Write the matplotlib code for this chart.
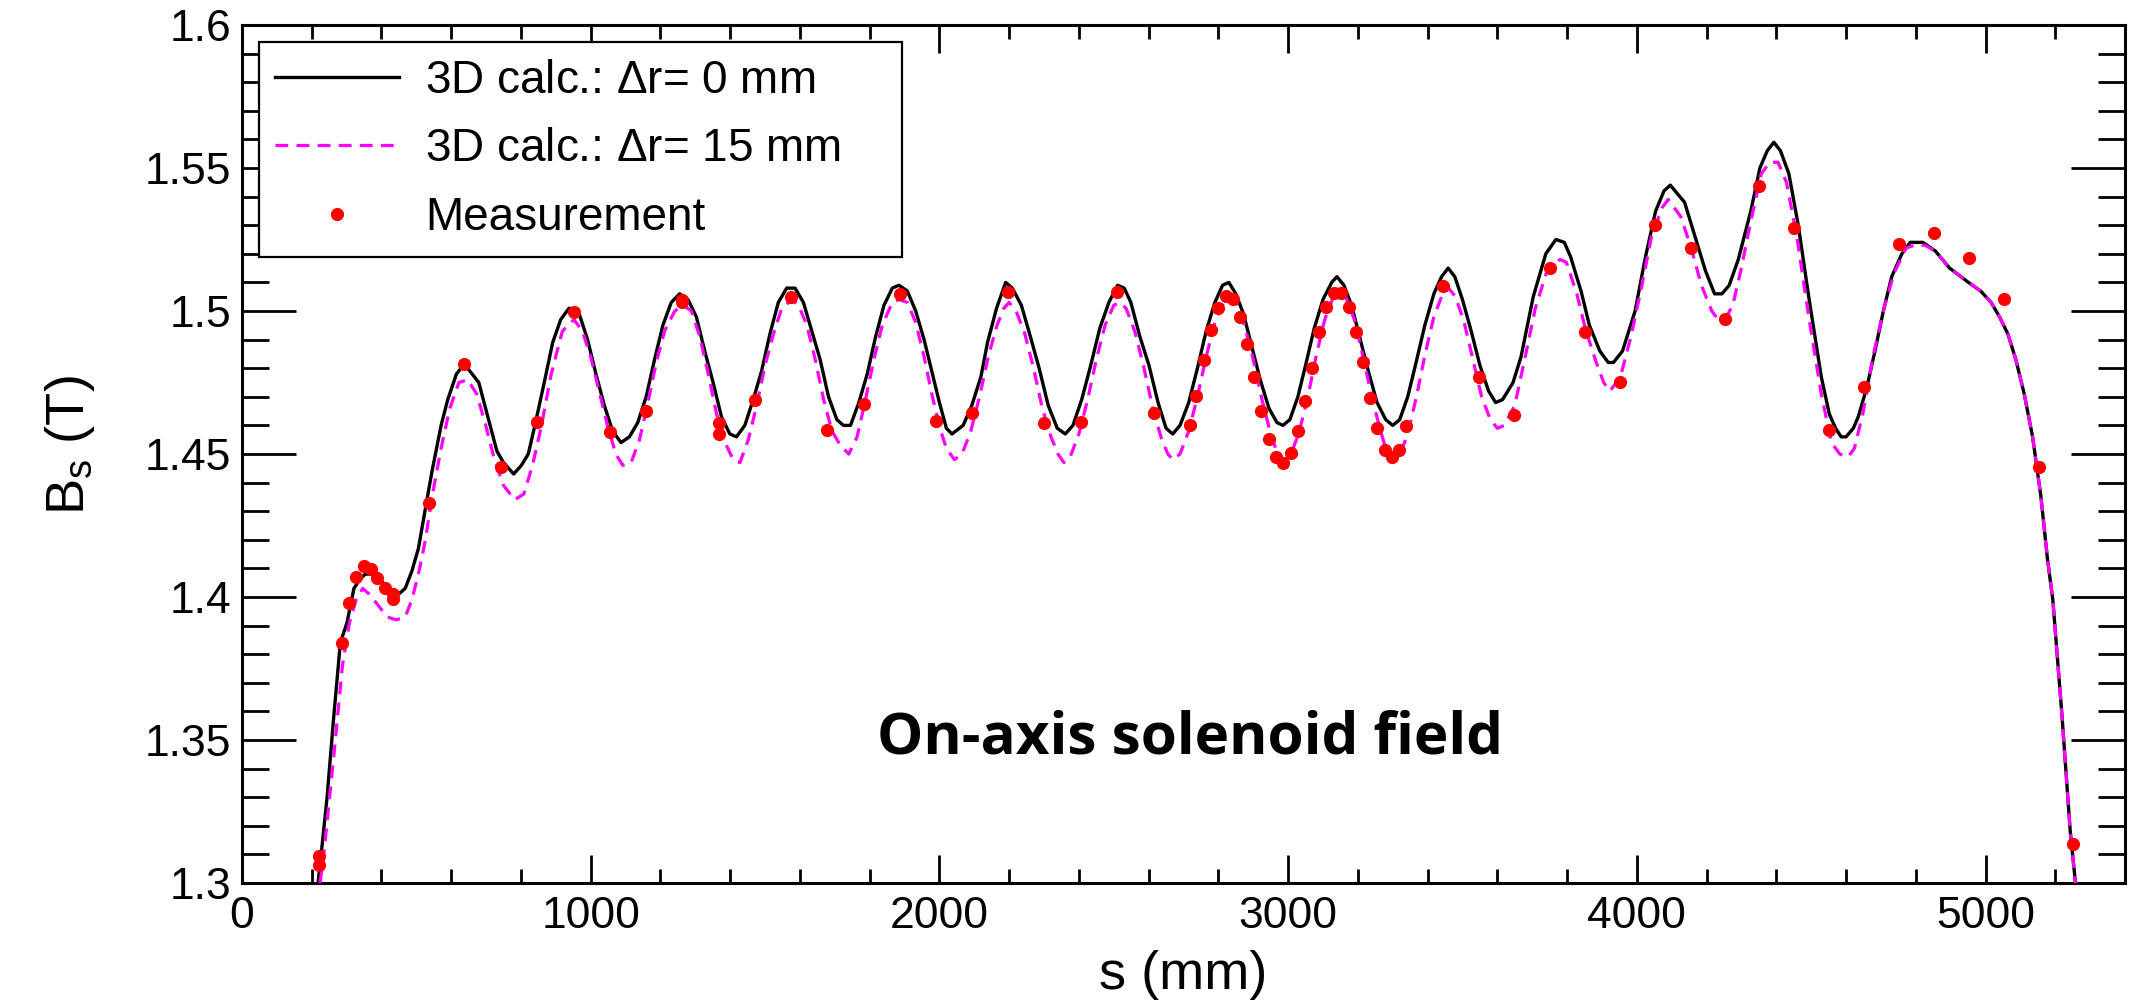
#!/usr/bin/env python3

import numpy as np
import matplotlib
matplotlib.use("Agg")
import matplotlib.pyplot as plt
from matplotlib.ticker import MultipleLocator, FormatStrFormatter

# 3D calculation, dr = 0 mm
calc0_s = [218, 227, 244, 263, 282, 301, 321, 337, 353, 378, 404, 429, 449, 468, 487, 506, 526, 545, 571, 590,
           615, 635, 647, 679, 705, 731, 750, 779, 801, 821, 840, 865, 891, 914, 938, 967, 991, 1015, 1039, 1063,
           1087, 1111, 1135, 1159, 1183, 1207, 1231, 1255, 1279, 1303, 1327, 1351, 1375, 1399, 1418, 1442, 1466,
           1490, 1514, 1538, 1562, 1586, 1610, 1634, 1658, 1682, 1706, 1725, 1745, 1769, 1793, 1817, 1841, 1865,
           1884, 1908, 1932, 1956, 1980, 2000, 2020, 2036, 2068, 2093, 2119, 2138, 2164, 2190, 2209, 2235, 2261,
           2286, 2312, 2338, 2361, 2383, 2408, 2434, 2460, 2486, 2511, 2530, 2549, 2575, 2601, 2627, 2650, 2669,
           2690, 2715, 2740, 2765, 2790, 2812, 2830, 2850, 2872, 2895, 2920, 2945, 2968, 2985, 3005, 3028, 3050,
           3075, 3100, 3125, 3140, 3160, 3182, 3205, 3230, 3255, 3280, 3300, 3320, 3343, 3367, 3392, 3418, 3440,
           3459, 3478, 3500, 3525, 3550, 3575, 3595, 3615, 3645, 3668, 3703, 3739, 3768, 3792, 3810, 3840, 3864,
           3894, 3918, 3933, 3959, 3995, 4025, 4054, 4078, 4096, 4137, 4167, 4197, 4223, 4244, 4265, 4291, 4327,
           4353, 4374, 4393, 4412, 4436, 4463, 4493, 4529, 4552, 4570, 4586, 4600, 4621, 4635, 4659, 4683, 4707,
           4731, 4760, 4784, 4820, 4856, 4897, 4951, 4986, 5016, 5040, 5064, 5087, 5111, 5135, 5159, 5177, 5193,
           5219, 5243, 5258]
calc0_b = [1.300, 1.310, 1.330, 1.358, 1.384, 1.391, 1.403, 1.406, 1.408, 1.408, 1.405, 1.401, 1.401, 1.403,
           1.409, 1.417, 1.431, 1.444, 1.460, 1.469, 1.478, 1.481, 1.480, 1.475, 1.463, 1.451, 1.447, 1.443,
           1.446, 1.450, 1.460, 1.474, 1.489, 1.497, 1.501, 1.499, 1.490, 1.478, 1.467, 1.458, 1.454, 1.456,
           1.461, 1.470, 1.483, 1.495, 1.503, 1.506, 1.504, 1.498, 1.486, 1.475, 1.463, 1.457, 1.456, 1.460,
           1.469, 1.479, 1.492, 1.503, 1.508, 1.508, 1.503, 1.493, 1.483, 1.470, 1.462, 1.460, 1.460, 1.468,
           1.478, 1.491, 1.502, 1.508, 1.509, 1.507, 1.500, 1.490, 1.478, 1.468, 1.459, 1.457, 1.460, 1.467,
           1.477, 1.489, 1.501, 1.510, 1.508, 1.502, 1.491, 1.480, 1.467, 1.459, 1.457, 1.460, 1.469, 1.481,
           1.494, 1.503, 1.509, 1.508, 1.503, 1.491, 1.481, 1.468, 1.459, 1.457, 1.460, 1.468, 1.480, 1.493,
           1.503, 1.509, 1.510, 1.506, 1.499, 1.488, 1.476, 1.466, 1.461, 1.460, 1.462, 1.470, 1.481, 1.494,
           1.504, 1.510, 1.512, 1.509, 1.502, 1.491, 1.479, 1.468, 1.462, 1.460, 1.462, 1.470, 1.482, 1.495,
           1.506, 1.512, 1.515, 1.512, 1.504, 1.493, 1.481, 1.472, 1.468, 1.469, 1.475, 1.484, 1.505, 1.520,
           1.525, 1.524, 1.519, 1.507, 1.495, 1.486, 1.482, 1.482, 1.486, 1.500, 1.519, 1.535, 1.542, 1.544,
           1.538, 1.526, 1.514, 1.506, 1.506, 1.509, 1.518, 1.535, 1.550, 1.556, 1.559, 1.556, 1.548, 1.530,
           1.505, 1.477, 1.464, 1.459, 1.456, 1.456, 1.459, 1.463, 1.473, 1.486, 1.500, 1.512, 1.520, 1.524,
           1.524, 1.521, 1.515, 1.510, 1.507, 1.503, 1.498, 1.492, 1.483, 1.471, 1.456, 1.435, 1.414, 1.399,
           1.359, 1.318, 1.300]

# 3D calculation, dr = 15 mm
calc15_s = [224, 237, 263, 288, 308, 327, 346, 365, 391, 417, 442, 468, 487, 506, 526, 545, 571, 596, 622, 647,
            673, 699, 724, 750, 782, 808, 833, 859, 885, 910, 919, 952, 976, 1000, 1024, 1048, 1072, 1092, 1116,
            1140, 1164, 1188, 1212, 1241, 1265, 1289, 1313, 1337, 1361, 1385, 1409, 1428, 1452, 1476, 1500, 1524,
            1548, 1577, 1596, 1620, 1644, 1668, 1692, 1716, 1740, 1764, 1788, 1812, 1836, 1865, 1884, 1908, 1932,
            1956, 1980, 2004, 2020, 2043, 2065, 2090, 2115, 2140, 2165, 2185, 2200, 2220, 2245, 2270, 2295, 2320,
            2340, 2357, 2375, 2400, 2425, 2450, 2475, 2500, 2517, 2535, 2560, 2585, 2610, 2635, 2655, 2670, 2690,
            2715, 2740, 2765, 2790, 2815, 2833, 2850, 2875, 2900, 2925, 2950, 2970, 2988, 3005, 3030, 3055, 3080,
            3105, 3130, 3146, 3165, 3190, 3215, 3240, 3265, 3285, 3300, 3318, 3343, 3368, 3393, 3418, 3440, 3460,
            3480, 3505, 3530, 3555, 3580, 3600, 3620, 3650, 3680, 3709, 3745, 3780, 3798, 3828, 3852, 3881, 3905,
            3923, 3953, 3983, 4013, 4042, 4072, 4090, 4126, 4156, 4185, 4215, 4233, 4257, 4275, 4298, 4328, 4357,
            4381, 4405, 4429, 4459, 4493, 4529, 4558, 4582, 4606, 4624, 4648, 4677, 4707, 4737, 4772, 4796, 4826,
            4856, 4897, 4951, 4986, 5016, 5040, 5064, 5087, 5111, 5135, 5159, 5177, 5193, 5219, 5243, 5258]
calc15_b = [1.300, 1.313, 1.344, 1.376, 1.391, 1.399, 1.403, 1.401, 1.397, 1.393, 1.392, 1.393, 1.399, 1.408,
            1.420, 1.435, 1.452, 1.466, 1.475, 1.476, 1.471, 1.460, 1.448, 1.439, 1.434, 1.436, 1.446, 1.460,
            1.477, 1.489, 1.493, 1.497, 1.493, 1.484, 1.472, 1.460, 1.450, 1.446, 1.447, 1.455, 1.468, 1.482,
            1.493, 1.500, 1.502, 1.500, 1.491, 1.478, 1.464, 1.454, 1.448, 1.447, 1.455, 1.467, 1.481, 1.492,
            1.501, 1.504, 1.502, 1.495, 1.483, 1.469, 1.458, 1.453, 1.450, 1.456, 1.469, 1.483, 1.495, 1.503,
            1.504, 1.503, 1.496, 1.484, 1.470, 1.458, 1.452, 1.448, 1.450, 1.458, 1.470, 1.484, 1.495, 1.501,
            1.503, 1.500, 1.492, 1.480, 1.466, 1.456, 1.450, 1.447, 1.449, 1.457, 1.469, 1.483, 1.495, 1.502,
            1.503, 1.501, 1.493, 1.481, 1.467, 1.456, 1.450, 1.448, 1.450, 1.458, 1.470, 1.484, 1.496, 1.503,
            1.505, 1.503, 1.495, 1.483, 1.469, 1.457, 1.450, 1.448, 1.449, 1.457, 1.469, 1.484, 1.497, 1.505,
            1.507, 1.505, 1.497, 1.484, 1.470, 1.458, 1.450, 1.448, 1.449, 1.457, 1.470, 1.485, 1.498, 1.505,
            1.508, 1.505, 1.496, 1.483, 1.470, 1.462, 1.459, 1.460, 1.467, 1.484, 1.501, 1.515, 1.518, 1.517,
            1.506, 1.494, 1.483, 1.475, 1.472, 1.477, 1.491, 1.508, 1.526, 1.536, 1.539, 1.533, 1.522, 1.509,
            1.500, 1.497, 1.498, 1.502, 1.514, 1.532, 1.548, 1.552, 1.552, 1.545, 1.526, 1.498, 1.471, 1.454,
            1.450, 1.449, 1.452, 1.464, 1.484, 1.500, 1.513, 1.522, 1.523, 1.523, 1.521, 1.515, 1.510, 1.507,
            1.503, 1.498, 1.492, 1.483, 1.471, 1.456, 1.435, 1.414, 1.399, 1.359, 1.318, 1.300]

# measured points
meas_s = [222, 222, 286, 308, 327, 349, 369, 388, 410, 432, 432, 535, 638, 744, 846, 951, 1055, 1160, 1263,
          1263, 1367, 1367, 1471, 1575, 1677, 1783, 1886, 1991, 2093, 2196, 2301, 2405, 2510, 2614, 2718, 2737,
          2759, 2780, 2800, 2821, 2841, 2863, 2882, 2903, 2923, 2944, 2966, 2985, 3007, 3027, 3048, 3068, 3090,
          3110, 3132, 3152, 3174, 3194, 3215, 3236, 3256, 3277, 3298, 3318, 3339, 3443, 3546, 3648, 3751, 3852,
          3953, 4053, 4154, 4252, 4351, 4452, 4552, 4652, 4752, 4852, 4953, 5052, 5152, 5252]
meas_b = [1.3094, 1.3063, 1.3839, 1.3980, 1.4070, 1.4107, 1.4099, 1.4067, 1.4031, 1.4009, 1.3993, 1.4329,
          1.4816, 1.4456, 1.4611, 1.4997, 1.4578, 1.4649, 1.5040, 1.5030, 1.4607, 1.4569, 1.4690, 1.5050,
          1.4584, 1.4674, 1.5058, 1.4615, 1.4644, 1.5068, 1.4608, 1.4612, 1.5068, 1.4644, 1.4602, 1.4704,
          1.4830, 1.4934, 1.5011, 1.5054, 1.5041, 1.4980, 1.4886, 1.4769, 1.4649, 1.4554, 1.4491, 1.4470,
          1.4502, 1.4582, 1.4686, 1.4802, 1.4925, 1.5014, 1.5062, 1.5062, 1.5014, 1.4925, 1.4822, 1.4695,
          1.4590, 1.4515, 1.4491, 1.4515, 1.4598, 1.5088, 1.4768, 1.4637, 1.5150, 1.4927, 1.4752, 1.5302,
          1.5219, 1.4971, 1.5438, 1.5289, 1.4585, 1.4734, 1.5234, 1.5272, 1.5184, 1.5041, 1.4454, 1.3138]

plt.rcParams['font.family'] = ['Liberation Sans', 'DejaVu Sans']
plt.rcParams['mathtext.fontset'] = 'custom'
plt.rcParams['mathtext.rm'] = 'Liberation Sans'
plt.rcParams['mathtext.it'] = 'Liberation Sans'

fig = plt.figure(figsize=(21.46, 10.08), dpi=100)
ax = fig.add_axes([242 / 2146, 1 - 883 / 1008, 1883 / 2146, 858 / 1008])

ax.plot(calc0_s, calc0_b, '-', color='black', lw=2.4, label='3D calc.: $\\Delta$r= 0 mm', zorder=2)
ax.plot(calc15_s, calc15_b, '--', color='#ff00ff', lw=2.3, dashes=(4, 2.6),
        label='3D calc.: $\\Delta$r= 15 mm', zorder=3)
ax.plot(meas_s, meas_b, 'o', color='red', ms=9.5, mew=0, label='Measurement', zorder=4)

ax.set_xlim(0, 5400)
ax.set_ylim(1.3, 1.6)

ax.xaxis.set_major_locator(MultipleLocator(1000))
ax.xaxis.set_minor_locator(MultipleLocator(200))
ax.yaxis.set_major_locator(MultipleLocator(0.05))
ax.yaxis.set_minor_locator(MultipleLocator(0.01))
ax.yaxis.set_major_formatter(FormatStrFormatter('%g'))

ax.tick_params(axis='both', which='both', direction='in', top=True, right=True, width=2.0,
               labelsize=32, color='black')
ax.tick_params(axis='x', which='major', length=20, pad=9)
ax.tick_params(axis='x', which='minor', length=10)
ax.tick_params(axis='y', which='major', length=39, pad=8)
ax.tick_params(axis='y', which='minor', length=19.5)
for sp in ax.spines.values():
    sp.set_linewidth(2.2)

ax.set_xlabel('s (mm)', fontsize=39)
ax.set_ylabel('B$_{\\rm s}$ (T)', fontsize=39)
ax.xaxis.set_label_coords(0.5, -0.078)
ax.yaxis.set_label_coords(-0.077, 0.51)

ax.text(0.5035, 0.168, 'On-axis solenoid field', transform=ax.transAxes, ha='center', va='center',
        fontsize=42, fontweight='bold', family=['Open Sans', 'DejaVu Sans'])

leg = ax.legend(loc='upper left', bbox_to_anchor=(0.009, 0.98, 0.3415, 0.0), mode='expand',
                borderaxespad=0, fontsize=33, frameon=True, fancybox=False, edgecolor='black',
                framealpha=1, handlelength=2.7, handletextpad=0.57, labelspacing=0.54, borderpad=0.36,
                numpoints=1)
leg.get_frame().set_linewidth(1.6)

plt.savefig('out.png', dpi=100)
